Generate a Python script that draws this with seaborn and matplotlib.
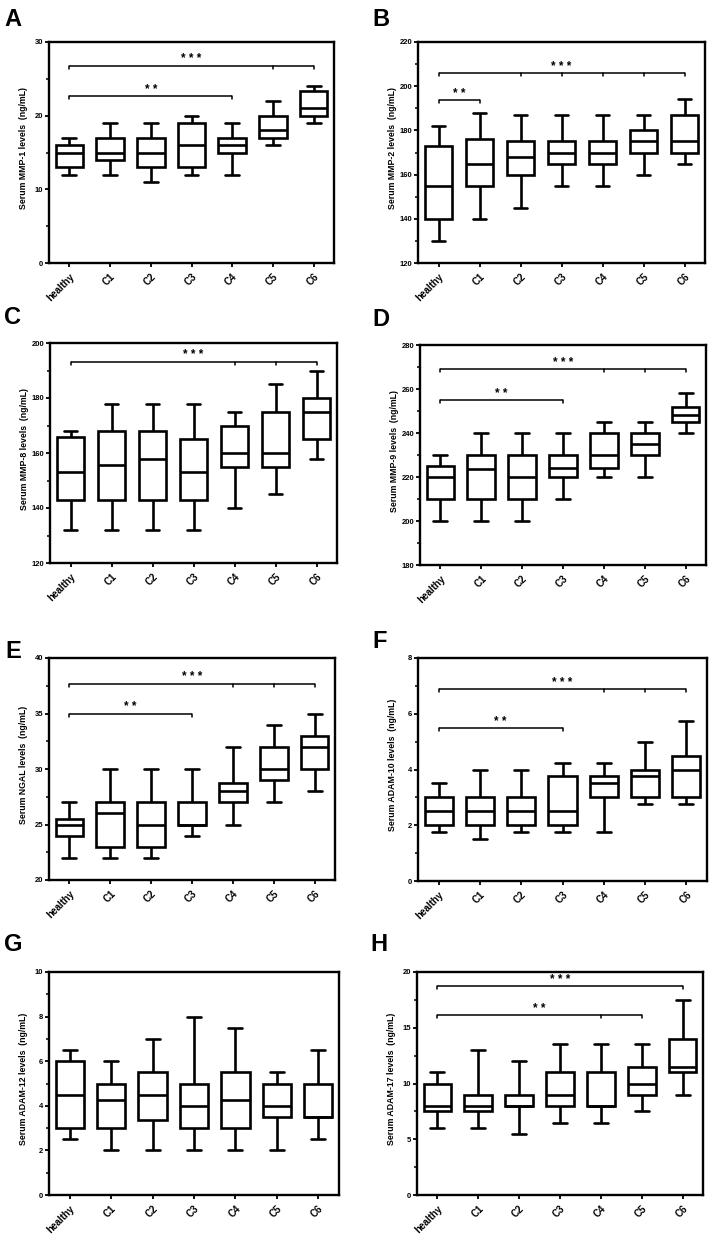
import numpy as np
import pandas as pd
import matplotlib
matplotlib.use("Agg")
import matplotlib.pyplot as plt
import seaborn as sns
from matplotlib.ticker import MultipleLocator

groups = ["healthy", "C1", "C2", "C3", "C4", "C5", "C6"]

# five-number summaries for each group: min, q1, median, q3, max
mmp1 = [(12, 13, 15, 16, 17), (12, 14, 15, 17, 19), (11, 13, 15, 17, 19), (12, 13, 16, 19, 20),
        (12, 15, 16, 17, 19), (16, 17, 18, 20, 22), (19, 20, 21, 23.4, 24)]
mmp2 = [(130, 140, 155, 173, 182), (140, 155, 165, 176, 188), (145, 160, 168, 175, 187),
        (155, 165, 170, 175, 187), (155, 165, 170, 175, 187), (160, 170, 175, 180, 187),
        (165, 170, 175, 187, 194)]
mmp8 = [(132, 143, 153, 166, 168), (132, 143, 155.5, 168, 178), (132, 143, 158, 168, 178),
        (132, 143, 153, 165, 178), (140, 155, 160, 170, 175), (145, 155, 160, 175, 185),
        (158, 165, 175, 180, 190)]
mmp9 = [(200, 210, 220, 225, 230), (200, 210, 223.5, 230, 240), (200, 210, 220, 230, 240),
        (210, 220, 224, 230, 240), (220, 224, 230, 240, 245), (220, 230, 235, 240, 245),
        (240, 245, 248, 252, 258)]
ngal = [(22, 24, 25, 25.5, 27), (22, 23, 26, 27, 30), (22, 23, 25, 27, 30), (24, 25, 25, 27, 30),
        (25, 27, 28, 28.75, 32), (27, 29, 30, 32, 34), (28, 30, 32, 33, 35)]
adam10 = [(1.75, 2, 2.5, 3, 3.5), (1.5, 2, 2.5, 3, 4), (1.75, 2, 2.5, 3, 4), (1.75, 2, 2.5, 3.75, 4.25),
          (1.75, 3, 3.5, 3.75, 4.25), (2.75, 3, 3.75, 4, 5), (2.75, 3, 4, 4.5, 5.75)]
adam12 = [(2.5, 3, 4.5, 6, 6.5), (2, 3, 4.25, 5, 6), (2, 3.35, 4.5, 5.5, 7), (2, 3, 4, 5, 8),
          (2, 3, 4.25, 5.5, 7.5), (2, 3.5, 4, 5, 5.5), (2.5, 3.5, 3.5, 5, 6.5)]
adam17 = [(6, 7.5, 8, 10, 11), (6, 7.5, 8, 9, 13), (5.5, 8, 8, 9, 12), (6.5, 8, 9, 11, 13.5),
          (6.5, 8, 8, 11, 13.5), (7.5, 9, 10, 11.5, 13.5), (9, 11, 11.5, 14, 17.5)]

# significance brackets: (start group, end group, extra tick groups, height, label)
sig_a = [(0, 6, [5], 26.8, "* * *"), (0, 4, [], 22.7, "* *")]
sig_b = [(0, 6, [2, 3, 4, 5], 205.8, "* * *"), (0, 1, [], 193.8, "* *")]
sig_c = [(0, 6, [4, 5], 193.2, "* * *")]
sig_d = [(0, 6, [4, 5], 269, "* * *"), (0, 3, [], 255, "* *")]
sig_e = [(0, 6, [4, 5], 37.7, "* * *"), (0, 3, [], 35, "* *")]
sig_f = [(0, 6, [4, 5], 6.87, "* * *"), (0, 3, [], 5.48, "* *")]
sig_g = []
sig_h = [(0, 6, [], 18.7, "* * *"), (0, 5, [4], 16.1, "* *")]

panels = [
    ("A", mmp1, "Serum MMP-1 levels  (ng/mL)", (0, 30), 10, 5, sig_a),
    ("B", mmp2, "Serum MMP-2 levels  (ng/mL)", (120, 220), 20, 10, sig_b),
    ("C", mmp8, "Serum MMP-8 levels  (ng/mL)", (120, 200), 20, 10, sig_c),
    ("D", mmp9, "Serum MMP-9 levels  (ng/mL)", (180, 280), 20, 10, sig_d),
    ("E", ngal, "Serum NGAL levels  (ng/mL)", (20, 40), 5, 2.5, sig_e),
    ("F", adam10, "Serum ADAM-10 levels  (ng/mL)", (0, 8), 2, 1, sig_f),
    ("G", adam12, "Serum ADAM-12 levels  (ng/mL)", (0, 10), 2, 1, sig_g),
    ("H", adam17, "Serum ADAM-17 levels  (ng/mL)", (0, 20), 5, 2.5, sig_h),
]

# axes boxes in pixels: left, top, right, bottom ; letter position left, top
axes_px = [(49, 42, 334, 263), (418, 42, 705, 263), (50, 343, 337, 563), (420, 345, 706, 565),
           (49, 658, 335, 880), (418, 658, 707, 881), (49, 972, 339, 1195), (417, 972, 703, 1195)]
letter_px = [(4, 8), (372, 8), (4, 306), (372, 308), (5, 640), (372, 630), (4, 933), (370, 933)]

sns.set_style("ticks")
plt.rcParams["font.family"] = ["Liberation Sans", "DejaVu Sans"]
plt.rcParams["font.weight"] = "bold"
for key in ["text.color", "axes.labelcolor", "xtick.color", "ytick.color", "axes.edgecolor"]:
    plt.rcParams[key] = "black"

W, H = 709, 1238
fig = plt.figure(figsize=(W / 100, H / 100), dpi=100)

for (letter, stats, ylabel, ylim, major, minor, sigs), (l, t, r, b), (lx, ly) in zip(panels, axes_px, letter_px):
    ax = fig.add_axes([l / W, 1 - b / H, (r - l) / W, (b - t) / H])
    df = pd.DataFrame([(g, v) for g, s in zip(groups, stats) for v in s], columns=["group", "value"])
    sns.boxplot(data=df, x="group", y="value", order=groups, whis=(0, 100), width=0.68,
                color="white", saturation=1, linecolor="black", linewidth=1.9, ax=ax)
    ax.set_xlim(-0.5, 6.5)
    ax.set_ylim(*ylim)
    ax.yaxis.set_major_locator(MultipleLocator(major))
    ax.yaxis.set_minor_locator(MultipleLocator(minor))
    ax.set_xlabel("")
    ax.set_ylabel(ylabel, fontsize=6.3, fontweight="bold")
    ax.yaxis.set_label_coords(-21 / (r - l), 0.52)
    ax.set_xticks(range(len(groups)))
    ax.set_xticklabels(groups, rotation=45, ha="right", rotation_mode="anchor",
                       fontsize=7, fontweight="bold")
    ax.tick_params(axis="y", which="major", length=3, width=1.3, labelsize=5.5, pad=1)
    ax.tick_params(axis="y", which="minor", length=2, width=1.1)
    ax.tick_params(axis="x", length=3, width=1.3, pad=3)
    for sp in ax.spines.values():
        sp.set_linewidth(1.7)
        sp.set_color("black")
        sp.set_visible(True)

    dy = 3 / (b - t) * (ylim[1] - ylim[0])
    for x0, x1, extra, yy, lab in sigs:
        ax.plot([x0, x1], [yy, yy], color="black", lw=1.1, solid_capstyle="butt")
        for xt in [x0, x1] + extra:
            ax.plot([xt, xt], [yy, yy - dy], color="black", lw=1.1)
        ax.annotate(lab, xy=((x0 + x1) / 2, yy), xytext=(0, 4.5), textcoords="offset points",
                    ha="center", va="center", fontsize=8.5, fontweight="bold")

    fig.text(lx / W, 1 - ly / H, letter, fontsize=17, fontweight="bold", ha="left", va="top")

fig.savefig("out.png", dpi=100)
